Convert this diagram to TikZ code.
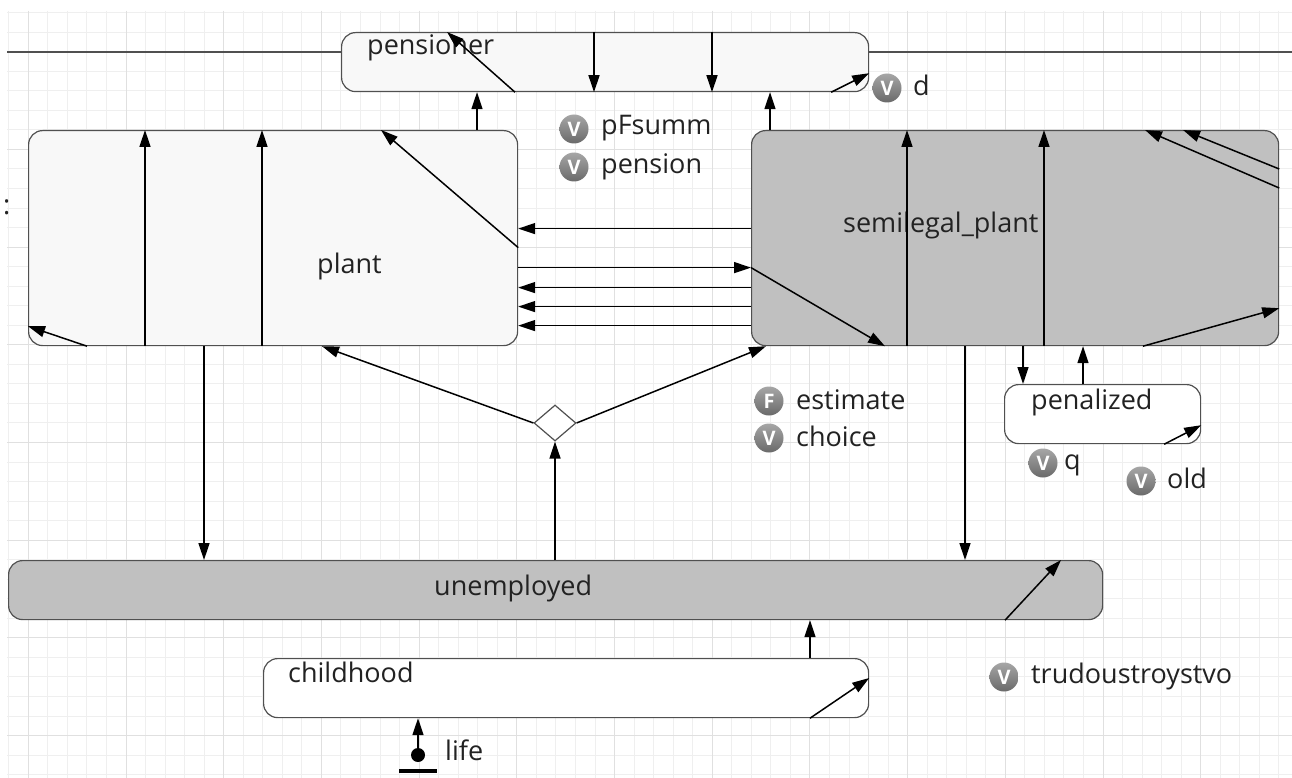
\documentclass[tikz,border=0pt]{standalone}
\usepackage{fontspec}
\setmainfont{Open Sans}
\usetikzlibrary{shapes.geometric,arrows.meta}
\definecolor{gridminor}{HTML}{EFEFEF}
\definecolor{gridmajor}{HTML}{E0E0E0}
\definecolor{boxline}{HTML}{505050}
\definecolor{lightfill}{HTML}{F8F8F8}
\definecolor{darkfill}{HTML}{C0C0C0}
\definecolor{txt}{HTML}{222222}
\definecolor{icontop}{HTML}{A6A6A6}
\definecolor{iconbot}{HTML}{6A6A6A}
\begin{document}
\begin{tikzpicture}[x=1pt,y=-1pt,
  state/.style={draw=boxline, line width=1.2pt, rounded corners=14pt, inner sep=0pt, anchor=north west},
  lbl/.style={anchor=base west, inner sep=0pt, text=txt, font=\fontsize{27}{32}\selectfont},
  arr/.style={line width=1.5pt, draw=black, -{Triangle[length=17pt,width=11pt]}},
  topline/.style={line width=1.5pt, draw=boxline},
  icon/.style={circle, minimum size=29pt, inner sep=0pt, top color=icontop, bottom color=iconbot, text=white, font=\fontsize{20}{20}\selectfont\bfseries},
]
\useasboundingbox (0,0) rectangle (1292,778);
\fill[white] (0,0) rectangle (1292,778);
% grid
\begin{scope}
\clip (7,11) rectangle (1292,778);
\foreach \i in {0,...,66} \draw[gridminor, line width=1pt] ({8.8+19.54*\i},11) -- ({8.8+19.54*\i},778);
\foreach \i in {0,...,40} \draw[gridminor, line width=1pt] (7,{12.6+19.54*\i}) -- (1292,{12.6+19.54*\i});
\foreach \i in {0,...,13} \draw[gridmajor, line width=1pt] ({28.34+97.7*\i},11) -- ({28.34+97.7*\i},778);
\foreach \i in {0,...,8} \draw[gridmajor, line width=1pt] (7,{51.7+97.7*\i}) -- (1292,{51.7+97.7*\i});
\end{scope}
% cut-off mark at left
\node[lbl] (cutmark) at (3,214) {:};
% states
\node[state, fill=lightfill, minimum width=527pt, minimum height=59pt] (pensioner) at (341,32) {};
\node[state, fill=lightfill, minimum width=489pt, minimum height=215pt] (plant) at (28,130) {};
\node[state, fill=darkfill, minimum width=527pt, minimum height=215pt] (semilegal) at (751,130) {};
\node[state, fill=white, minimum width=196pt, minimum height=59pt] (penalized) at (1004,384) {};
\node[state, fill=darkfill, minimum width=1094pt, minimum height=59pt] (unemployed) at (8,560) {};
\node[state, fill=white, minimum width=605pt, minimum height=59pt] (childhood) at (263,658) {};
\node[diamond, draw=boxline, fill=white, line width=1.2pt, minimum width=42pt, minimum height=36pt, inner sep=0pt] (branch) at (555,423) {};
\node[circle, fill=black, minimum size=14pt, inner sep=0pt] (initdot) at (418,755) {};
\node[fill=black, minimum width=38pt, minimum height=3.5pt, inner sep=0pt] (initbar) at (418,771) {};
% top line
\coordinate (lineL) at (7,52);
\coordinate (lineR) at (1292,52);
\draw[topline] (lineL) -- (lineL -| pensioner.west);
\draw[topline] (pensioner.east |- lineR) -- (lineR);
% state labels
\node[lbl] (pensionerL) at (367,55) {pensioner};
\node[lbl] (plantL) at (317,273) {plant};
\node[lbl] (semilegalL) at (843,232) {semilegal\_plant};
\node[lbl] (unemployedL) at (434,595) {unemployed};
\node[lbl] (penalizedL) at (1031,409) {penalized};
\node[lbl] (childhoodL) at (288,682) {childhood};
\node[lbl] (lifeL) at (445,760) {life};
% transitions
\draw[arr] ([xshift=449pt]plant.north west) -- ([xshift=136pt]pensioner.south west);
\draw[arr] ([xshift=19pt]semilegal.north west) -- ([xshift=429pt]pensioner.south west);
\draw[arr] ([xshift=253pt]pensioner.north west) -- ([xshift=253pt]pensioner.south west);
\draw[arr] ([xshift=371pt]pensioner.north west) -- ([xshift=371pt]pensioner.south west);
\draw[arr] ([xshift=174pt]pensioner.south west) -- ([xshift=106pt]pensioner.north west);
\draw[arr] ([xshift=-38pt]pensioner.south east) -- ([yshift=19pt]pensioner.south east);
\draw[arr] ([xshift=117pt]plant.south west) -- ([xshift=117pt]plant.north west);
\draw[arr] ([xshift=234pt]plant.south west) -- ([xshift=234pt]plant.north west);
\draw[arr] ([yshift=-9.5pt]plant.east) -- ([xshift=353pt]plant.north west);
\draw[arr] ([xshift=59pt]plant.south west) -- ([yshift=20pt]plant.south west);
\draw[arr] ([xshift=176pt]plant.south west) -- ([xshift=196pt]unemployed.north west);
\draw[arr] ([yshift=9.5pt]semilegal.west) -- ([yshift=9.5pt]plant.east);
\draw[arr] ([yshift=-29.5pt]plant.east) -- ([yshift=-29.5pt]semilegal.west);
\draw[arr] ([yshift=-49.5pt]semilegal.west) -- ([yshift=-49.5pt]plant.east);
\draw[arr] ([yshift=-68.5pt]semilegal.west) -- ([yshift=-68.5pt]plant.east);
\draw[arr] ([yshift=-87.5pt]semilegal.west) -- ([yshift=-87.5pt]plant.east);
\draw[arr] ([yshift=-29.5pt]semilegal.west) -- ([xshift=134pt]semilegal.south west);
\draw[arr] ([xshift=156pt]semilegal.south west) -- ([xshift=156pt]semilegal.north west);
\draw[arr] ([xshift=293pt]semilegal.south west) -- ([xshift=293pt]semilegal.north west);
\draw[arr] ([yshift=-58pt]semilegal.north east) -- ([xshift=394pt]semilegal.north west);
\draw[arr] ([yshift=-39pt]semilegal.north east) -- ([xshift=432pt]semilegal.north west);
\draw[arr] ([xshift=392pt]semilegal.south west) -- ([yshift=38pt]semilegal.south east);
\draw[arr] ([xshift=272pt]semilegal.south west) -- ([xshift=19pt]penalized.north west);
\draw[arr] ([xshift=79pt]penalized.north west) -- ([xshift=332pt]semilegal.south west);
\draw[arr] ([xshift=-37pt]penalized.south east) -- ([yshift=19pt]penalized.south east);
\draw[arr] ([xshift=214pt]semilegal.south west) -- ([xshift=957pt]unemployed.north west);
\draw[arr] (branch.west) -- ([xshift=294pt]plant.south west);
\draw[arr] (branch.east) -- ([xshift=15pt]semilegal.south west);
\draw[arr] ([xshift=547pt]unemployed.north west) -- (branch.south);
\draw[arr] ([xshift=997pt]unemployed.south west) -- ([xshift=1053pt]unemployed.north west);
\draw[arr] ([xshift=547pt]childhood.north west) -- ([xshift=802pt]unemployed.south west);
\draw[arr] ([xshift=547pt]childhood.south west) -- ([yshift=-20pt]childhood.north east);
\draw[arr] (initdot) -- ([xshift=155pt]childhood.south west);
% variables
\node[icon] (iconD) at (887,88) {V};
\node[lbl] (varD) at (913,96) {d};
\node[icon] (iconPF) at (574,129) {V};
\node[lbl] (varPF) at (601,135) {pFsumm};
\node[icon] (iconPen) at (574,167) {V};
\node[lbl] (varPen) at (601,174) {pension};
\node[icon] (iconEst) at (769,401) {F};
\node[lbl] (varEst) at (796,409) {estimate};
\node[icon] (iconCh) at (769,438) {V};
\node[lbl] (varCh) at (796,446) {choice};
\node[icon] (iconQ) at (1043,463) {V};
\node[lbl] (varQ) at (1064,469) {q};
\node[icon] (iconOld) at (1141,481) {V};
\node[lbl] (varOld) at (1167,488) {old};
\node[icon] (iconTr) at (1004,677) {V};
\node[lbl] (varTr) at (1031,683) {trudoustroystvo};
\end{tikzpicture}
\end{document}
